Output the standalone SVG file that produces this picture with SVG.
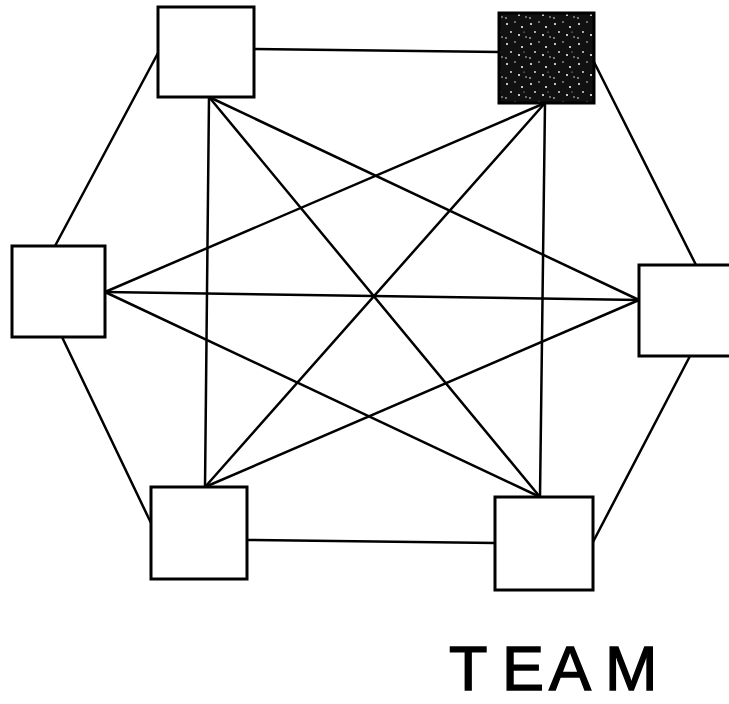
<svg xmlns="http://www.w3.org/2000/svg" width="729" height="704" viewBox="0 0 729 704">
<style>
.box{fill:#fff;stroke:#000;stroke-width:3}
.dark{fill:url(#speckle);stroke:#000;stroke-width:3}
.edge{stroke:#000;stroke-width:2.5;fill:none;stroke-linecap:round}
.label{font-family:"Liberation Sans",Arial,sans-serif;font-size:63px;fill:#000;stroke:#000;stroke-width:1.4}
</style>
<defs>
<pattern id="speckle" width="24" height="20" patternUnits="userSpaceOnUse">
<rect width="24" height="20" fill="#111"/>
<circle cx="3" cy="4" r="1" fill="#fff"/>
<circle cx="11" cy="2" r="0.8" fill="#ddd"/>
<circle cx="18" cy="7" r="1" fill="#fff"/>
<circle cx="7" cy="12" r="0.9" fill="#eee"/>
<circle cx="15" cy="15" r="1" fill="#fff"/>
<circle cx="22" cy="17" r="0.8" fill="#ddd"/>
<circle cx="2" cy="18" r="0.8" fill="#fff"/>
<circle cx="20" cy="12" r="0.6" fill="#ccc"/>
</pattern>
</defs>
<g id="connectors">
<line class="edge" x1="158" y1="53" x2="55" y2="246"/>
<line class="edge" x1="254" y1="49" x2="499" y2="52"/>
<line class="edge" x1="594" y1="62" x2="696" y2="265"/>
<line class="edge" x1="690" y1="356" x2="593" y2="542"/>
<line class="edge" x1="495" y1="543" x2="247" y2="540"/>
<line class="edge" x1="151" y1="523" x2="62" y2="337"/>
<line class="edge" x1="209" y1="97" x2="205" y2="487"/>
<line class="edge" x1="209" y1="97" x2="639" y2="300"/>
<line class="edge" x1="209" y1="97" x2="540" y2="497"/>
<line class="edge" x1="545" y1="103" x2="540" y2="497"/>
<line class="edge" x1="545" y1="103" x2="105" y2="292"/>
<line class="edge" x1="545" y1="103" x2="205" y2="487"/>
<line class="edge" x1="105" y1="292" x2="639" y2="300"/>
<line class="edge" x1="105" y1="292" x2="540" y2="497"/>
<line class="edge" x1="639" y1="300" x2="205" y2="487"/>
</g>
<g id="node-top-left"><rect class="box" x="158" y="7" width="96" height="90"/></g>
<g id="node-top-right"><rect class="dark" x="499" y="13" width="95" height="90"/></g>
<g id="node-left"><rect class="box" x="12" y="246" width="93" height="91"/></g>
<g id="node-right"><rect class="box" x="639" y="265" width="95" height="91"/></g>
<g id="node-bottom-left"><rect class="box" x="151" y="487" width="96" height="92"/></g>
<g id="node-bottom-right"><rect class="box" x="495" y="497" width="98" height="93"/></g>
<text class="label" x="449 502 549 605" y="690">TEAM</text>
</svg>
